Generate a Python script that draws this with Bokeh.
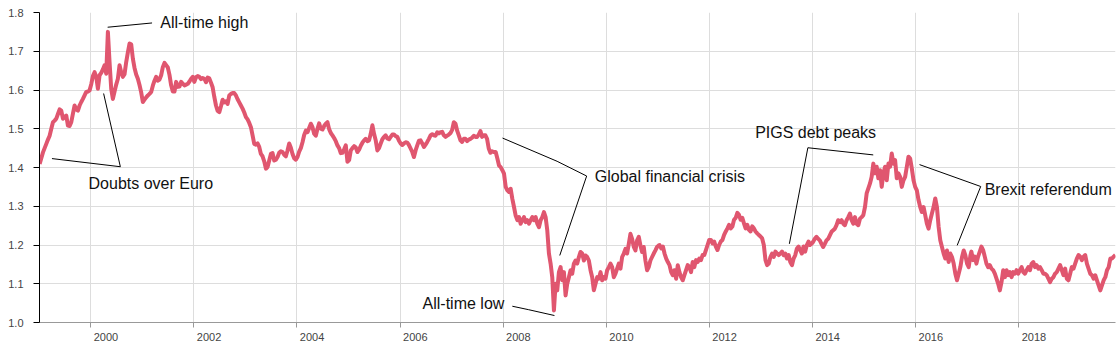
import numpy as np
import pandas as pd
from bokeh.plotting import figure
from bokeh.models import FixedTicker, Range1d, ColumnDataSource, NumeralTickFormatter
from bokeh.core.properties import value
from bokeh.embed import file_html
from bokeh.resources import INLINE

# ---- GBP/EUR rate, in consecutive evenly spaced runs ----
seg1_range = ("1999-01-05", "2001-12-25")
seg1_vals = [1.409,1.424,1.439,1.450,1.461,1.472,1.482,1.500,1.517,1.521,
             1.526,1.538,1.550,1.547,1.526,1.530,1.534,1.508,1.507,1.517,
             1.539,1.560,1.550,1.547,1.560,1.569,1.577,1.586,1.595,1.596,
             1.599,1.615,1.636,1.646,1.634,1.603,1.638,1.644,1.653,1.664,
             1.642,1.750,1.672,1.603,1.577,1.596,1.614,1.629,1.664,1.646,
             1.634,1.641,1.672,1.697,1.720,1.718,1.681,1.657,1.640,1.629,
             1.613,1.594,1.569,1.575,1.581,1.586,1.590,1.595,1.611,1.624,
             1.634,1.624,1.627,1.638,1.659,1.670,1.664,1.658,1.639,1.612,
             1.596,1.596,1.621,1.608,1.609,1.621,1.616,1.612,1.614,1.616,
             1.622,1.629,1.634]
seg2_range = ("2002-01-05", "2004-12-01")
seg2_vals = [1.621,1.633,1.636,1.634,1.628,1.631,1.629,1.620,1.632,1.630,
             1.619,1.607,1.582,1.560,1.546,1.543,1.558,1.575,1.568,1.571,
             1.564,1.586,1.590,1.592,1.592,1.586,1.576,1.568,1.560,1.552,
             1.542,1.530,1.524,1.515,1.504,1.483,1.461,1.459,1.462,1.453,
             1.435,1.429,1.416,1.397,1.401,1.418,1.435,1.437,1.418,1.420,
             1.427,1.438,1.442,1.440,1.433,1.429,1.444,1.462,1.451,1.435,
             1.424,1.420,1.427,1.441,1.450,1.465,1.484,1.495,1.491,1.502,
             1.513,1.504,1.487,1.482,1.500,1.514,1.500,1.498,1.507,1.513,
             1.517,1.499,1.489,1.483,1.476,1.468,1.457,1.450,1.437,1.438,
             1.447]
seg3_range = ("2004-12-13", "2007-10-27")
seg3_vals = [1.457,1.415,1.419,1.444,1.450,1.455,1.452,1.440,1.446,1.456,
             1.464,1.470,1.474,1.468,1.470,1.487,1.509,1.487,1.470,1.444,
             1.450,1.462,1.473,1.479,1.483,1.475,1.473,1.479,1.485,1.485,
             1.481,1.479,1.469,1.462,1.458,1.462,1.465,1.464,1.458,1.449,
             1.440,1.427,1.444,1.457,1.469,1.470,1.462,1.453,1.459,1.466,
             1.474,1.483,1.486,1.483,1.482,1.491,1.488,1.491,1.492,1.483,
             1.479,1.482,1.485,1.489,1.497,1.517,1.513,1.495,1.483,1.470,
             1.466,1.474,1.474,1.468,1.472,1.474,1.477,1.482,1.479,1.479,
             1.485,1.494,1.479,1.483,1.483,1.474,1.449,1.438,1.442,1.440]
seg4_range = ("2007-11-10", "2011-01-08")
seg4_vals = [1.440,1.423,1.405,1.401,1.393,1.384,1.350,1.341,1.337,1.345,
             1.319,1.298,1.276,1.264,1.272,1.255,1.264,1.272,1.259,1.264,
             1.255,1.264,1.272,1.264,1.272,1.255,1.246,1.264,1.272,1.285,
             1.272,1.238,1.178,1.152,1.117,1.031,1.100,1.083,1.130,1.143,
             1.109,1.130,1.070,1.100,1.117,1.135,1.126,1.152,1.160,1.152,
             1.169,1.182,1.178,1.160,1.173,1.169,1.160,1.135,1.117,1.083,
             1.100,1.117,1.113,1.130,1.109,1.117,1.113,1.135,1.143,1.152,
             1.143,1.117,1.126,1.139,1.152,1.139,1.169,1.178,1.190,1.178,
             1.203,1.229,1.216,1.195,1.186,1.212,1.221,1.199,1.182,1.195,
             1.160,1.135,1.143,1.160,1.169,1.178,1.186,1.195,1.199]
seg5_range = ("2011-01-14", "2013-12-04")
seg5_vals = [1.200,1.191,1.196,1.178,1.165,1.156,1.148,1.130,1.122,1.135,
             1.113,1.148,1.130,1.117,1.109,1.122,1.135,1.148,1.143,1.130,
             1.156,1.143,1.161,1.156,1.165,1.161,1.174,1.174,1.187,1.200,
             1.213,1.213,1.204,1.209,1.196,1.187,1.200,1.209,1.213,1.226,
             1.235,1.243,1.252,1.243,1.248,1.265,1.270,1.283,1.278,1.265,
             1.270,1.256,1.243,1.252,1.239,1.235,1.248,1.243,1.235,1.230,
             1.226,1.222,1.217,1.200,1.161,1.148,1.152,1.169,1.178,1.169,
             1.183,1.178,1.174,1.178,1.183,1.174,1.178,1.165,1.174,1.156,
             1.148,1.165,1.174,1.191,1.196,1.187,1.178,1.196,1.183,1.200,
             1.209]
seg6_range = ("2013-12-13", "2017-01-24")
seg6_vals = [1.200,1.203,1.208,1.216,1.221,1.216,1.212,1.203,1.195,1.203,
             1.212,1.216,1.225,1.234,1.238,1.242,1.251,1.264,1.259,1.264,
             1.255,1.251,1.264,1.272,1.281,1.264,1.255,1.272,1.255,1.251,
             1.268,1.272,1.277,1.298,1.333,1.346,1.359,1.376,1.410,1.385,
             1.402,1.372,1.393,1.350,1.385,1.402,1.367,1.410,1.402,1.436,
             1.410,1.419,1.372,1.385,1.376,1.350,1.367,1.376,1.402,1.428,
             1.423,1.397,1.367,1.350,1.341,1.316,1.298,1.285,1.298,1.277,
             1.255,1.242,1.264,1.281,1.298,1.320,1.298,1.247,1.212,1.195,
             1.178,1.165,1.186,1.156,1.178,1.169,1.152,1.126,1.109,1.126,
             1.143,1.169,1.186,1.173,1.152,1.143,1.173]
seg7_range = ("2017-01-31", "2019-11-17")
seg7_vals = [1.183,1.161,1.170,1.152,1.170,1.183,1.196,1.187,1.170,1.152,
             1.143,1.148,1.139,1.135,1.126,1.113,1.100,1.083,1.104,1.135,
             1.117,1.135,1.122,1.130,1.117,1.130,1.126,1.135,1.126,1.135,
             1.143,1.130,1.126,1.135,1.143,1.135,1.152,1.156,1.143,1.148,
             1.139,1.143,1.135,1.126,1.126,1.122,1.113,1.104,1.113,1.117,
             1.126,1.130,1.139,1.148,1.135,1.122,1.139,1.113,1.109,1.126,
             1.143,1.139,1.152,1.165,1.174,1.170,1.161,1.170,1.174,1.152,
             1.139,1.126,1.122,1.113,1.122,1.109,1.096,1.083,1.096,1.109,
             1.117,1.135,1.143,1.165,1.165,1.170,1.174]

x_start, x_end = "1999-01-04", "2019-11-18"
y_ticks = [1.0, 1.1, 1.2, 1.3, 1.4, 1.5, 1.6, 1.7, 1.8]
x_tick_years = [2000, 2002, 2004, 2006, 2008, 2010, 2012, 2014, 2016, 2018]

# annotations: label, text x (decimal year), text y, alignment, leader polyline
ann_labels = ["All-time high", "Doubts over Euro", "All-time low",
              "Global financial crisis", "PIGS debt peaks", "Brexit referendum"]
ann_text_x = [2001.35, 1999.96, 2008.025, 2009.777, 2012.888, 2017.34]
ann_text_y = [1.775, 1.360, 1.049, 1.376, 1.490, 1.344]
ann_align = ["left", "left", "right", "left", "left", "left"]
ann_lines = [
    [(2000.33, 1.762), (2001.19, 1.773)],
    [(1999.25, 1.423), (2000.576, 1.402), (2000.252, 1.591)],
    [(2008.18, 1.042), (2008.497, 1.033), (2008.995, 1.018)],
    [(2007.99, 1.476), (2009.047, 1.416), (2009.62, 1.378), (2009.098, 1.173)],
    [(2015.18, 1.4325), (2013.911, 1.451), (2013.552, 1.203)],
    [(2016.078, 1.4075), (2017.263, 1.351), (2016.807, 1.199)],
]

LINE_COLOR = "#e0566f"
FONT = "Liberation Sans"
PAD = "\u00a0" * 10  # year labels sit to the right of their ticks


def ms(ts):
    return pd.Timestamp(ts).value / 1e6


def decyear(y):
    yr = int(np.floor(y))
    a = pd.Timestamp(year=yr, month=1, day=1)
    b = pd.Timestamp(year=yr + 1, month=1, day=1)
    return a + (b - a) * (y - yr)


segments = [(seg1_range, seg1_vals), (seg2_range, seg2_vals), (seg3_range, seg3_vals),
            (seg4_range, seg4_vals), (seg5_range, seg5_vals), (seg6_range, seg6_vals),
            (seg7_range, seg7_vals)]
dates, rates = [], []
for (s, e), vals in segments:
    dates.extend(pd.date_range(s, e, periods=len(vals)))
    rates.extend(vals)

src = ColumnDataSource(dict(x=pd.DatetimeIndex(dates), y=rates))

p = figure(width=1116, height=352, x_axis_type="datetime",
           x_range=Range1d(ms(x_start), ms(x_end)), y_range=Range1d(1.0, 1.8),
           output_backend="svg", toolbar_location=None,
           min_border_left=39, min_border_right=1, min_border_top=12, min_border_bottom=30)
p.outline_line_color = None
p.background_fill_color = "white"
p.border_fill_color = "white"

p.xgrid.grid_line_color = "#dddddd"
p.ygrid.grid_line_color = "#dddddd"

x_ticks = [ms(f"{y}-01-01") for y in x_tick_years]
p.xaxis.ticker = FixedTicker(ticks=x_ticks)
p.xaxis.major_label_overrides = {t: PAD + str(y) for t, y in zip(x_ticks, x_tick_years)}
p.xaxis.axis_line_color = "#999999"
p.xaxis.major_tick_line_color = "#999999"
p.xaxis.major_tick_in = 0
p.xaxis.major_tick_out = 5
p.xaxis.minor_tick_line_color = None
p.xaxis.major_label_standoff = 3

p.yaxis.ticker = FixedTicker(ticks=y_ticks)
p.yaxis.formatter = NumeralTickFormatter(format="0.0")
p.yaxis.axis_line_color = "#000000"
p.yaxis.major_tick_line_color = "#000000"
p.yaxis.major_tick_in = 0
p.yaxis.major_tick_out = 6
p.yaxis.minor_tick_line_color = None
p.yaxis.major_label_standoff = 10

for ax in (p.xaxis, p.yaxis):
    ax.major_label_text_font = FONT
    ax.major_label_text_font_size = "11px"
    ax.major_label_text_color = "#444444"

p.line("x", "y", source=src, line_color=LINE_COLOR, line_width=4, line_join="round")

xs = [[decyear(a) for a, _ in seg] for seg in ann_lines]
ys = [[b for _, b in seg] for seg in ann_lines]
p.multi_line(xs=xs, ys=ys, line_color="black", line_width=1)

tsrc = ColumnDataSource(dict(x=[decyear(v) for v in ann_text_x], y=ann_text_y,
                             text=ann_labels, align=ann_align))
p.text("x", "y", text="text", source=tsrc, text_align="align", text_baseline="middle",
       text_font=value(FONT), text_font_size="16px", text_color="#111111")

open("out.html", "w").write(file_html(p, INLINE))
